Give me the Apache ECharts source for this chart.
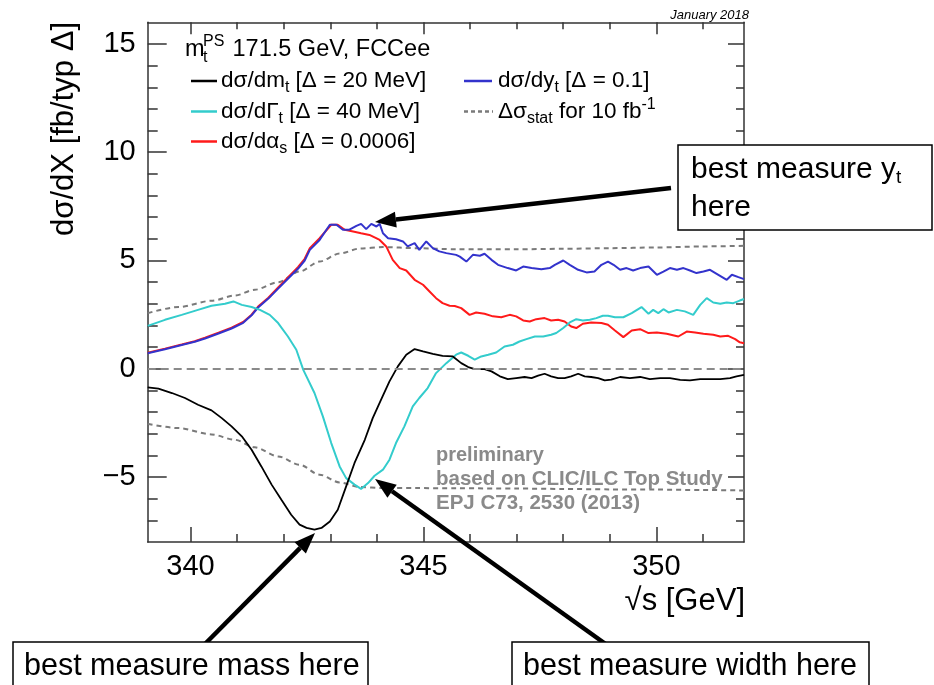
<!DOCTYPE html>
<html><head><meta charset="utf-8">
<script src="https://cdn.jsdelivr.net/npm/echarts@6/dist/echarts.min.js"></script>
<style>html,body{margin:0;padding:0;background:#fff;}#c{width:934px;height:685px;}</style>
</head><body><div id="c"></div>
<script>
const FONT = "'Liberation Sans', Arial, Helvetica, sans-serif";

// ---- axis ranges / tick labels ----
const X_MIN = 339.08, X_MAX = 351.88;
const Y_MIN = -8, Y_MAX = 16;
const xMajorTicks = [340, 345, 350];
const xMinorTicks = [340, 341, 342, 343, 344, 345, 346, 347, 348, 349, 350, 351];
const yMajorTicks = [-5, 0, 5, 10, 15];
const yMinorTicks = [-7, -6, -5, -4, -3, -2, -1, 0, 1, 2, 3, 4, 5, 6, 7, 8, 9, 10, 11, 12, 13, 14, 15];

// ---- dsigma/dm_t (black) ----
const mtX = [339.08,339.31,339.6,339.88,340.16,340.45,340.67,340.88,341.1,341.31,341.52,341.74,341.95,342.16,342.34,342.49,342.66,342.81,342.99,343.16,343.34,343.52,343.74,343.91,344.09,344.27,344.45,344.63,344.81,344.99,345.2,345.41,345.63,345.81,345.96,346.1,346.31,346.46,346.64,346.81,346.99,347.17,347.32,347.46,347.6,347.74,347.89,348.03,348.17,348.32,348.46,348.6,348.75,348.89,349.03,349.22,349.43,349.65,349.86,350.08,350.29,350.51,350.72,350.94,351.15,351.37,351.58,351.72,351.88];
const mtY = [-0.86,-0.92,-1.12,-1.35,-1.66,-1.92,-2.28,-2.66,-3.12,-3.74,-4.51,-5.35,-6.05,-6.74,-7.2,-7.35,-7.43,-7.35,-7.05,-6.51,-5.43,-4.35,-3.28,-2.28,-1.43,-0.58,0.11,0.65,0.91,0.8,0.69,0.6,0.57,0.26,0.08,-0.02,-0.02,-0.12,-0.35,-0.48,-0.43,-0.38,-0.43,-0.32,-0.23,-0.35,-0.43,-0.43,-0.35,-0.23,-0.35,-0.38,-0.43,-0.54,-0.5,-0.38,-0.43,-0.38,-0.48,-0.43,-0.43,-0.51,-0.54,-0.48,-0.48,-0.48,-0.43,-0.35,-0.28];

// ---- dsigma/dGamma_t (cyan) ----
const gtX = [339.08,339.45,339.81,340.16,340.45,340.74,340.92,341.1,341.31,341.49,341.7,341.88,342.09,342.27,342.42,342.66,342.84,343.02,343.2,343.34,343.52,343.66,343.81,343.95,344.13,344.27,344.41,344.59,344.77,344.91,345.09,345.27,345.49,345.7,345.81,345.96,346.1,346.24,346.39,346.56,346.74,346.92,347.06,347.21,347.39,347.57,347.74,347.85,348.0,348.14,348.28,348.42,348.57,348.71,348.85,348.96,349.11,349.29,349.47,349.68,349.83,349.93,350.04,350.15,350.26,350.44,350.61,350.79,350.94,351.08,351.22,351.37,351.51,351.65,351.79,351.88];
const gtY = [1.98,2.26,2.49,2.72,2.91,3.0,3.11,2.95,2.85,2.72,2.49,2.11,1.49,0.88,-0.05,-1.12,-2.2,-3.43,-4.51,-5.05,-5.35,-5.55,-5.28,-4.94,-4.66,-4.2,-3.43,-2.66,-1.74,-1.35,-0.89,-0.2,0.26,0.65,0.75,0.6,0.42,0.57,0.65,0.75,1.03,1.11,1.26,1.37,1.49,1.49,1.57,1.65,1.88,2.14,2.29,2.23,2.26,2.34,2.45,2.45,2.38,2.38,2.57,2.85,2.54,2.72,2.57,2.75,2.6,2.72,2.65,2.49,2.95,3.26,3.06,3.0,3.06,3.03,3.15,3.22];

// ---- dsigma/dalpha_s (red) ----
const asX = [339.08,339.45,339.81,340.09,340.31,340.6,340.88,341.13,341.31,341.45,341.67,341.88,342.09,342.31,342.45,342.56,342.77,343.02,343.16,343.31,343.49,343.66,343.84,344.06,344.2,344.34,344.49,344.63,344.81,344.99,345.13,345.27,345.41,345.56,345.67,345.81,345.99,346.13,346.31,346.49,346.67,346.85,346.99,347.14,347.28,347.42,347.6,347.74,347.89,348.03,348.17,348.28,348.42,348.6,348.82,348.96,349.11,349.29,349.47,349.65,349.83,350.01,350.22,350.47,350.65,350.83,351.01,351.22,351.37,351.54,351.69,351.79,351.88];
const asY = [0.74,0.93,1.12,1.27,1.44,1.67,1.9,2.16,2.5,2.87,3.28,3.75,4.22,4.7,5.08,5.57,6.03,6.65,6.65,6.42,6.34,6.26,6.18,5.95,5.65,5.03,4.65,4.54,4.11,3.88,3.57,3.26,3.03,2.91,2.9,2.8,2.49,2.6,2.54,2.42,2.38,2.49,2.42,2.23,2.18,2.29,2.34,2.23,2.26,2.18,1.95,1.88,2.08,2.14,2.11,2.03,1.77,1.46,1.77,1.83,1.65,1.68,1.62,1.49,1.72,1.68,1.62,1.57,1.49,1.52,1.37,1.22,1.18];

// ---- dsigma/dy_t (blue) ----
const ytX = [339.08,339.45,339.81,340.09,340.31,340.6,340.88,341.13,341.31,341.45,341.67,341.88,342.09,342.31,342.45,342.56,342.77,342.99,343.13,343.27,343.41,343.56,343.66,343.77,343.88,343.99,344.06,344.13,344.24,344.41,344.56,344.66,344.81,344.91,345.06,345.2,345.34,345.49,345.7,345.78,345.92,346.06,346.21,346.31,346.46,346.6,346.81,346.99,347.14,347.32,347.53,347.71,347.82,348.0,348.14,348.32,348.5,348.67,348.82,348.96,349.08,349.22,349.36,349.5,349.65,349.83,350.01,350.15,350.29,350.44,350.58,350.72,350.86,351.01,351.15,351.33,351.51,351.62,351.76,351.88];
const ytY = [0.72,0.9,1.1,1.25,1.4,1.63,1.86,2.12,2.47,2.83,3.24,3.7,4.16,4.63,5.0,5.49,5.95,6.65,6.65,6.42,6.42,6.6,6.69,6.45,6.69,6.57,6.69,6.26,6.03,5.98,5.88,5.65,5.8,5.49,5.88,5.57,5.42,5.34,5.26,5.18,4.95,5.26,5.22,5.31,5.03,4.8,4.65,4.54,4.72,4.65,4.6,4.65,4.8,5.0,4.8,4.57,4.45,4.49,4.8,4.95,4.8,4.57,4.65,4.54,4.65,4.72,4.34,4.49,4.65,4.57,4.65,4.54,4.42,4.49,4.57,4.34,4.11,4.34,4.23,4.14];

// ---- statistical uncertainty for 10 fb^-1 (grey dashed) ----
const statX = [339.08,339.74,340.45,340.95,341.38,341.88,342.34,342.77,343.2,343.63,344.13,344.84,345.7,347.0,348.0,349.0,350.0,351.0,351.88];
const statUp = [2.57,2.85,3.14,3.38,3.65,4.0,4.49,4.95,5.32,5.55,5.62,5.57,5.52,5.52,5.54,5.57,5.6,5.65,5.68];
const statLow = [-2.54,-2.74,-3.03,-3.28,-3.63,-4.05,-4.43,-4.89,-5.25,-5.46,-5.51,-5.51,-5.52,-5.53,-5.55,-5.57,-5.58,-5.6,-5.62];

const pairs = (xs, ys) => xs.map((x, i) => [x, ys[i]]);

const COL = { mt: '#000000', gt: '#33cccc', as: '#ff1a1a', yt: '#3333cc', stat: '#7a7a7a' };
const AX = '#333333';

function xAx(pos, ticks, len, line, labels) {
  return {
    type: 'value', gridIndex: 0, position: pos, min: X_MIN, max: X_MAX,
    axisLine: { show: line, onZero: false, lineStyle: { color: AX, width: 1.5 } },
    axisTick: { show: true, inside: true, length: len, customValues: ticks, lineStyle: { color: AX, width: 1.5 } },
    axisLabel: labels ? { show: true, customValues: labels, fontSize: 29, fontFamily: FONT, color: '#000', margin: 10 } : { show: false },
    splitLine: { show: false }
  };
}
function yAx(pos, ticks, len, line, labels) {
  return {
    type: 'value', gridIndex: 0, position: pos, min: Y_MIN, max: Y_MAX,
    axisLine: { show: line, onZero: false, lineStyle: { color: AX, width: 1.5 } },
    axisTick: { show: true, inside: true, length: len, customValues: ticks, lineStyle: { color: AX, width: 1.5 } },
    axisLabel: labels ? { show: true, customValues: labels, fontSize: 29, fontFamily: FONT, color: '#000', margin: 12,
      formatter: v => String(v).replace('-', '\u2212') } : { show: false },
    splitLine: { show: false }
  };
}

function lineSeries(name, xs, ys, color, width, extra) {
  return Object.assign({
    name, type: 'line', data: pairs(xs, ys), xAxisIndex: 0, yAxisIndex: 0,
    showSymbol: false, symbol: 'none', lineStyle: { color, width }, itemStyle: { color },
    animation: false, silent: true, z: 3
  }, extra || {});
}

function arrow(x1, y1, x2, y2) {
  const a = Math.atan2(y2 - y1, x2 - x1), L = 21, W = 8;
  const bx = x2 - L * Math.cos(a), by = y2 - L * Math.sin(a);
  const nx = -Math.sin(a), ny = Math.cos(a);
  return [
    { type: 'line', shape: { x1, y1, x2: bx, y2: by }, style: { stroke: '#000', lineWidth: 4.5 }, z: 20 },
    { type: 'polygon', shape: { points: [[x2, y2], [bx + W * nx, by + W * ny], [bx - W * nx, by - W * ny]] }, style: { fill: '#000' }, z: 20 }
  ];
}

const LF = 22.5, SF = 16;
const rich = {
  n: { fontSize: LF, fontFamily: FONT, color: '#000', lineHeight: 30 },
  s: { fontSize: SF, fontFamily: FONT, color: '#000', lineHeight: 16, verticalAlign: 'bottom' },
  p: { fontSize: SF, fontFamily: FONT, color: '#000', lineHeight: 16, verticalAlign: 'top' }
};
function rtext(x, y, text, extra) {
  return { type: 'text', x, y, z: 30, style: Object.assign({ text, rich, align: 'left', verticalAlign: 'middle' }, extra || {}) };
}
function ptext(x, y, text, size, extra) {
  return { type: 'text', x, y, z: 30, style: Object.assign({ text, fontSize: size, fontFamily: FONT, fill: '#000', align: 'left', verticalAlign: 'middle' }, extra || {}) };
}
function legLine(x1, x2, y, color, dash) {
  return { type: 'line', z: 30, shape: { x1, y1: y, x2, y2: y }, style: { stroke: color, lineWidth: 2.5, lineDash: dash || null } };
}

const yTitle = ptext(64, 22, 'dσ/dX [fb/typ Δ]', 31, { align: 'right' });
yTitle.rotation = Math.PI / 2;

const graphics = [].concat(
  [
    ptext(749, 15, 'January 2018', 13, { align: 'right', fontStyle: 'italic' }),
    yTitle,
    ptext(745, 601, '√s [GeV]', 31, { align: 'right' }),
    // legend header
    ptext(185, 50, 'm', 23.5),
    ptext(203, 58, 't', SF),
    ptext(203, 42, 'PS', SF),
    ptext(226, 50, ' 171.5 GeV, FCCee', 23.5),
    legLine(191, 217, 81, COL.mt), rtext(221, 81, '{n|dσ/dm}{s|t}{n| [Δ = 20 MeV]}'),
    legLine(191, 217, 111.5, COL.gt), rtext(221, 111.5, '{n|dσ/dΓ}{s|t}{n| [Δ = 40 MeV]}'),
    legLine(191, 217, 141.5, COL.as), rtext(221, 141.5, '{n|dσ/dα}{s|s}{n| [Δ = 0.0006]}'),
    legLine(464, 492, 81, COL.yt), rtext(498, 81, '{n|dσ/dy}{s|t}{n| [Δ = 0.1]}'),
    legLine(464, 493, 111.5, COL.stat, [4, 3]), rtext(498, 111.5, '{n|Δσ}{s|stat}{n| for 10 fb}{p|-1}'),
    // preliminary note
    ptext(436, 455, 'preliminary', 20, { fill: '#8a8a8a', fontWeight: 'bold' }),
    ptext(436, 479, 'based on CLIC/ILC Top Study', 20.5, { fill: '#8a8a8a', fontWeight: 'bold' }),
    ptext(436, 503, 'EPJ C73, 2530 (2013)', 20.5, { fill: '#8a8a8a', fontWeight: 'bold' }),
    // annotation boxes
    { type: 'rect', z: 25, shape: { x: 678, y: 145, width: 254, height: 85 }, style: { fill: '#fff', stroke: '#000', lineWidth: 1.5 } },
    rtext(691, 170, '{b|best measure y}{c|t}', { rich: { b: { fontSize: 30, fontFamily: FONT, lineHeight: 34 }, c: { fontSize: 19, fontFamily: FONT, lineHeight: 19, verticalAlign: 'bottom' } } }),
    ptext(691, 208, 'here', 30),
    { type: 'rect', z: 25, shape: { x: 13, y: 642, width: 355, height: 60 }, style: { fill: '#fff', stroke: '#000', lineWidth: 1.5 } },
    ptext(24, 667, 'best measure mass here', 30.5),
    { type: 'rect', z: 25, shape: { x: 512, y: 642, width: 357, height: 60 }, style: { fill: '#fff', stroke: '#000', lineWidth: 1.5 } },
    ptext(523, 667, 'best measure width here', 30.5)
  ],
  arrow(671, 188, 375, 222),
  arrow(202, 647, 315, 533),
  arrow(607, 645, 375, 479)
);

const chart = echarts.init(document.getElementById('c'), null, { renderer: 'canvas' });
chart.setOption({
  animation: false,
  backgroundColor: '#fff',
  grid: { left: 147.7, right: 190, top: 22.3, bottom: 143, containLabel: false },
  xAxis: [
    xAx('bottom', xMajorTicks, 15, true, xMajorTicks),
    xAx('bottom', xMinorTicks, 8, false, null),
    xAx('top', xMajorTicks, 12, true, null),
    xAx('top', xMinorTicks, 7, false, null)
  ],
  yAxis: [
    yAx('left', yMajorTicks, 19, true, yMajorTicks),
    yAx('left', yMinorTicks, 10, false, null),
    yAx('right', yMajorTicks, 16, true, null),
    yAx('right', yMinorTicks, 8, false, null)
  ],
  series: [
    lineSeries('stat+', statX, statUp, COL.stat, 2, { smooth: 0.3, smoothMonotone: 'x', lineStyle: { color: COL.stat, width: 2, type: [5, 4] },
      markLine: { silent: true, symbol: 'none', label: { show: false }, lineStyle: { color: '#8a8a8a', width: 2, type: [8, 5] }, data: [{ yAxis: 0 }] } }),
    lineSeries('stat-', statX, statLow, COL.stat, 2, { smooth: 0.3, smoothMonotone: 'x', lineStyle: { color: COL.stat, width: 2, type: [5, 4] } }),
    lineSeries('dσ/dα_s', asX, asY, COL.as, 2),
    lineSeries('dσ/dy_t', ytX, ytY, COL.yt, 2),
    lineSeries('dσ/dΓ_t', gtX, gtY, COL.gt, 2),
    lineSeries('dσ/dm_t', mtX, mtY, COL.mt, 1.8)
  ],
  graphic: { elements: graphics }
});
</script>
</body></html>
